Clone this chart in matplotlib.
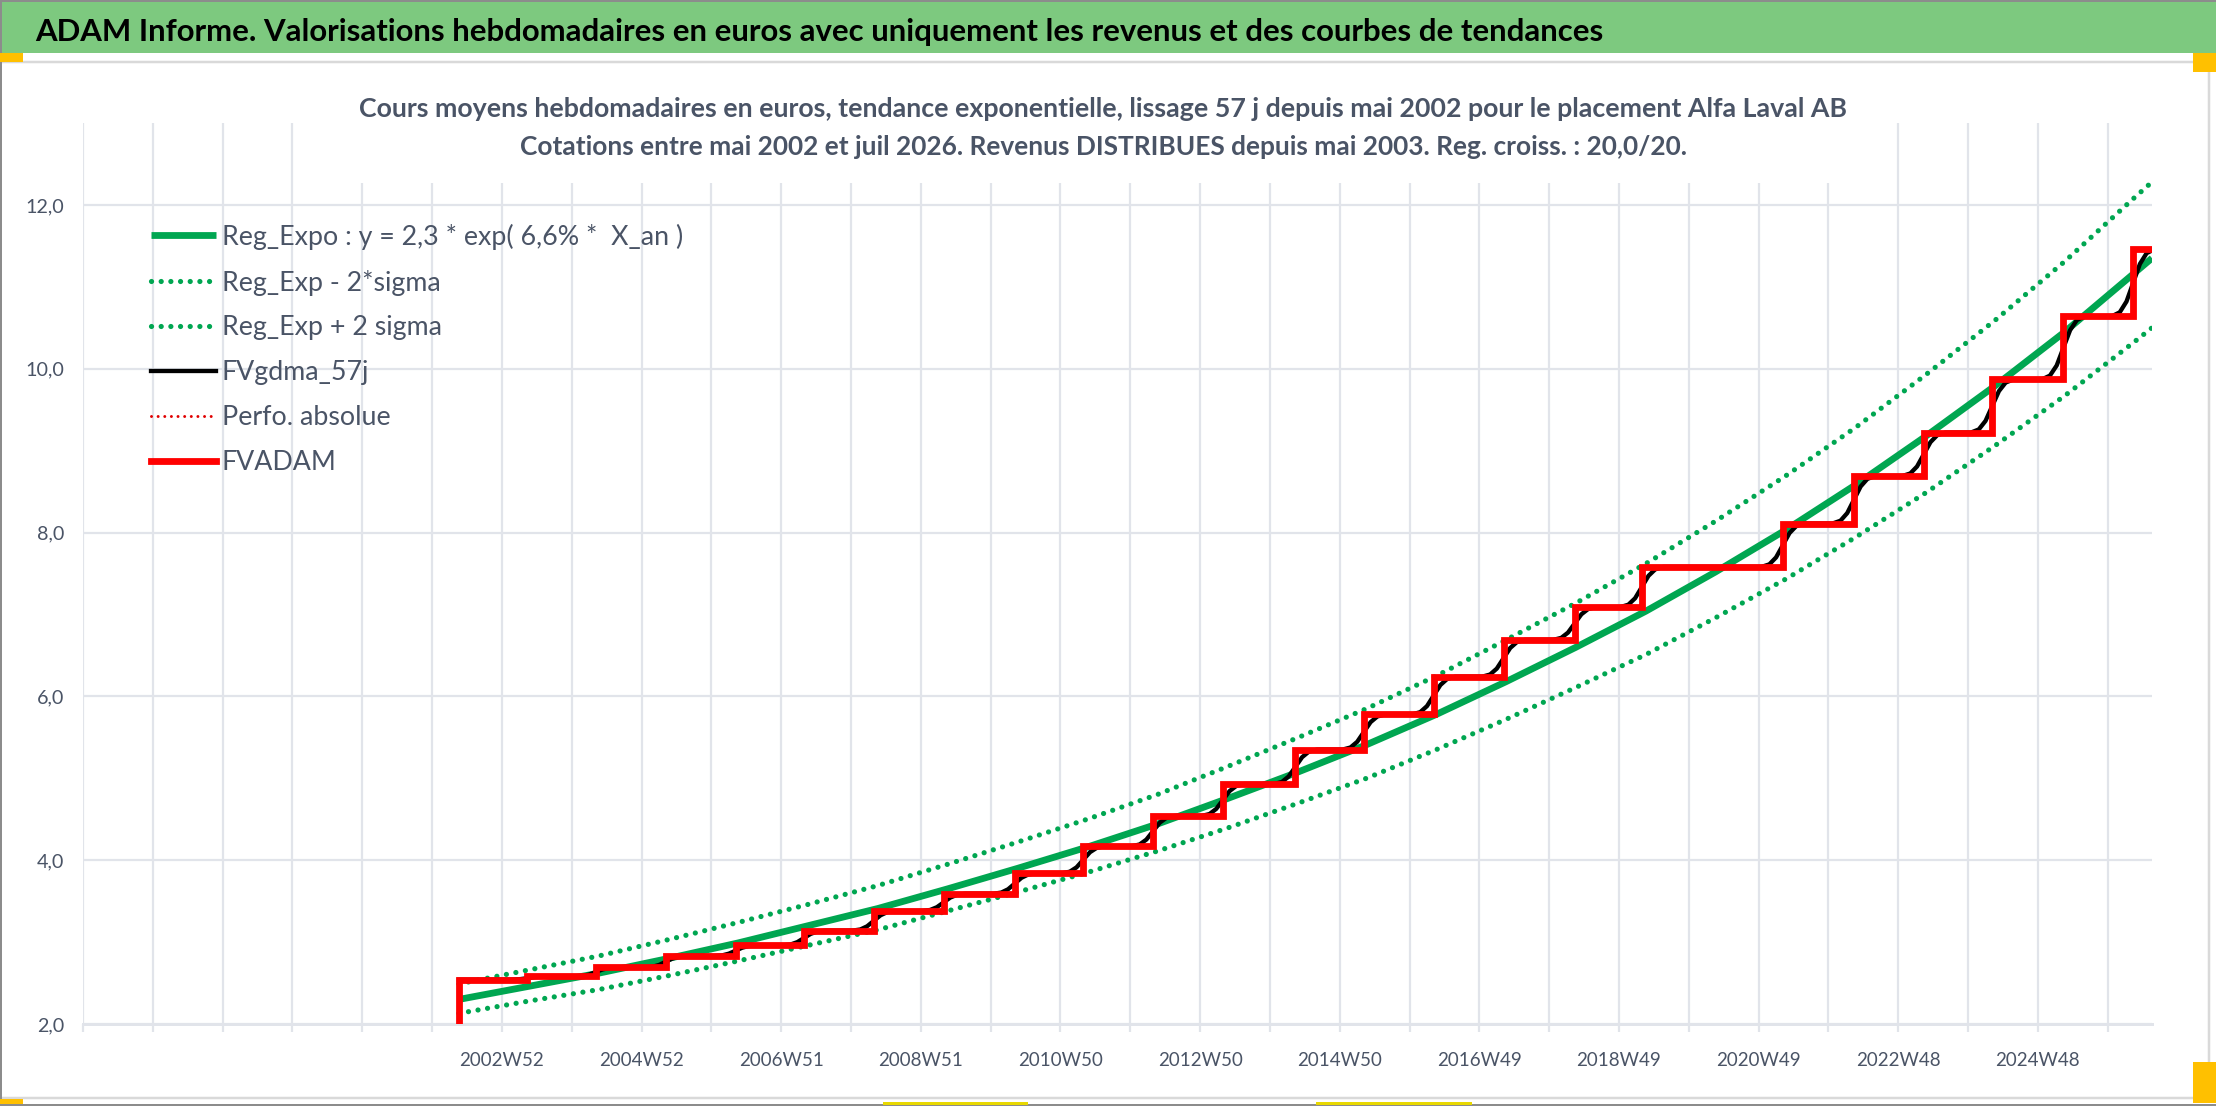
import numpy as np
import matplotlib
matplotlib.use('Agg')
import matplotlib.pyplot as plt
from matplotlib import font_manager
from matplotlib.patches import Rectangle

# ==================== police ====================
names = {f.name for f in font_manager.fontManager.ttflist}
FONT = next((n for n in ['Liberation Sans Narrow', 'Lato', 'Open Sans', 'DejaVu Sans'] if n in names), 'DejaVu Sans')
plt.rcParams['font.family'] = [FONT, 'DejaVu Sans']

W, H = 2216, 1106

# ==================== données ====================
TITLE = "ADAM Informe. Valorisations hebdomadaires en euros avec uniquement les revenus et des courbes de tendances"
SUB1 = "Cours moyens hebdomadaires en euros, tendance exponentielle, lissage 57 j depuis mai 2002 pour le placement Alfa Laval AB"
SUB2 = "Cotations entre mai 2002 et juil 2026. Revenus DISTRIBUES depuis mai 2003. Reg. croiss. : 20,0/20."

# axe des catégories = semaines (0 = bord gauche, 52 semaines par graduation)
END_WEEK = 1541
XTICK_LABELS = ['2002W52', '2004W52', '2006W51', '2008W51', '2010W50', '2012W50',
                '2014W50', '2016W49', '2018W49', '2020W49', '2022W48', '2024W48']
Y_TICKS = [2.0, 4.0, 6.0, 8.0, 10.0, 12.0]

# FVADAM : marches annuelles (versement des revenus)
FIRST_WEEK, FIRST_LEVEL = 279, 0.0
STEP_WEEKS = [280, 331, 382, 434, 486, 537, 589, 641, 694, 745, 797, 849,
              903, 954, 1006, 1058, 1111, 1161, 1266, 1319, 1371, 1422, 1475, 1527]
STEP_LEVELS = [2.54, 2.58, 2.69, 2.83, 2.96, 3.14, 3.38, 3.59, 3.84, 4.17, 4.54, 4.93,
               5.35, 5.78, 6.24, 6.69, 7.09, 7.58, 8.11, 8.69, 9.22, 9.87, 10.64, 11.46]

# FVgdma_57j : forme de la transition lissée autour de chaque marche
S_OFFSETS = [-16, -10, -5, 0, 5, 10, 16]
S_FRACTIONS = [0.0, 0.06, 0.22, 0.5, 0.78, 0.94, 1.0]

# courbes de régression, lues une fois par an
REG_WEEKS = list(range(280, 1529, 52)) + [END_WEEK]
REG_EXPO = [2.30, 2.46, 2.62, 2.80, 2.99, 3.20, 3.41, 3.65, 3.90, 4.16, 4.44, 4.75, 5.07,
            5.41, 5.78, 6.18, 6.60, 7.04, 7.52, 8.03, 8.58, 9.17, 9.79, 10.45, 11.17, 11.35]
REG_LOW = [2.13, 2.28, 2.42, 2.59, 2.77, 2.96, 3.15, 3.38, 3.61, 3.85, 4.11, 4.39, 4.69,
           5.00, 5.35, 5.72, 6.11, 6.51, 6.96, 7.43, 7.94, 8.48, 9.06, 9.67, 10.33, 10.50]
REG_HIGH = [2.49, 2.66, 2.83, 3.03, 3.24, 3.46, 3.69, 3.95, 4.22, 4.50, 4.80, 5.14, 5.49,
            5.85, 6.25, 6.69, 7.14, 7.62, 8.14, 8.69, 9.28, 9.92, 10.59, 11.31, 12.09, 12.28]

LABELS = ['Reg_Expo : y = 2,3 * exp( 6,6% *  X_an )', 'Reg_Exp - 2*sigma', 'Reg_Exp + 2 sigma',
          'FVgdma_57j', 'Perfo. absolue', 'FVADAM']

GREEN = '#00A651'
GRID = '#E1E4EA'
SLATE = '#4A5466'
PT = 0.72  # 1 px en points

# ==================== séries ====================
red_x = [FIRST_WEEK] + STEP_WEEKS + [END_WEEK]
red_y = [FIRST_LEVEL] + STEP_LEVELS + [STEP_LEVELS[-1]]

black_x, black_y = [STEP_WEEKS[0]], [STEP_LEVELS[0]]
for t, lo, hi in zip(STEP_WEEKS[1:], STEP_LEVELS[:-1], STEP_LEVELS[1:]):
    for off, fr in zip(S_OFFSETS, S_FRACTIONS):
        black_x.append(t + off)
        black_y.append(lo + fr * (hi - lo))
if black_x[-1] < END_WEEK:
    black_x.append(END_WEEK)
    black_y.append(black_y[-1])

# ==================== figure ====================
def fx(x):
    return x / W

def fy(y):
    return 1 - y / H

fig = plt.figure(figsize=(W / 100, H / 100), dpi=100)
renderer = fig.canvas.get_renderer()

ax = fig.add_axes([fx(83), fy(1024), (2152 - 83) / W, (1024 - 123) / H])
ax.set_xlim(0, END_WEEK)
ax.set_ylim(2, 13)

dots = (0, (0.01, 1.85))
l_reg, = ax.plot(REG_WEEKS, REG_EXPO, color=GREEN, lw=6.8 * PT, solid_capstyle='butt', zorder=3)
l_low, = ax.plot(REG_WEEKS, REG_LOW, color=GREEN, lw=5.2 * PT, linestyle=dots, dash_capstyle='round', zorder=3)
l_high, = ax.plot(REG_WEEKS, REG_HIGH, color=GREEN, lw=5.2 * PT, linestyle=dots, dash_capstyle='round', zorder=3)
l_black, = ax.plot(black_x, black_y, color='black', lw=4.3 * PT, zorder=4)
l_perf, = ax.plot([], [], color='#E00000', lw=3.0 * PT, linestyle=(0, (0.01, 2.2)), dash_capstyle='round')
l_red, = ax.plot(red_x, red_y, color='#FF0000', lw=6.8 * PT, drawstyle='steps-post',
                 solid_joinstyle='miter', zorder=5)

# grille
ax.set_xticks(np.arange(0, END_WEEK, 52))
xlab = []
for k in range(len(ax.get_xticks())):
    xlab.append(XTICK_LABELS[(k - 6) // 2] if k >= 6 and (k - 6) % 2 == 0 else '')
ax.set_xticklabels(xlab)
ax.set_yticks(Y_TICKS)
ax.set_yticklabels([f'{v:.1f}'.replace('.', ',') for v in Y_TICKS])
ax.grid(True, color=GRID, lw=2.2 * PT, zorder=0)
ax.set_axisbelow(True)
for s in ['top', 'right', 'left']:
    ax.spines[s].set_visible(False)
ax.spines['bottom'].set_color(GRID)
ax.spines['bottom'].set_linewidth(3 * PT)
ax.tick_params(axis='x', length=8 * PT, width=2.2 * PT, color=GRID, pad=20 * PT, labelcolor=SLATE)
ax.tick_params(axis='y', length=0, pad=19 * PT, labelcolor=SLATE)

# taille des étiquettes d'axe ajustée sur la largeur mesurée
def size_for(txt, width, **kw):
    t = fig.text(0, 0, txt, fontsize=10, **kw)
    w = t.get_window_extent(renderer).width
    t.remove()
    return 10 * width / w

xs = size_for('2002W52', 85)
ys = size_for('12,0', 39)
for lab in ax.get_xticklabels():
    lab.set_fontsize(xs)
for lab in ax.get_yticklabels():
    lab.set_fontsize(ys)

# ==================== cadre et bandeau ====================
def rect(x0, y0, x1, y1, **kw):
    fig.patches.append(Rectangle((fx(x0), fy(y1)), (x1 - x0) / W, (y1 - y0) / H,
                                 transform=fig.transFigure, **kw))

rect(0, 62, 2209, 1098, facecolor='none', edgecolor='#D9D9D9', lw=2.5 * PT, zorder=0.5)
rect(0, 1.5, W, 53, facecolor='#7DC97F', edgecolor='none', zorder=2)
rect(0, 0, W, 1.5, facecolor='#8C8C8C', edgecolor='none', zorder=2)
rect(0, 1104, W, H, facecolor='#8C8C8C', edgecolor='none', zorder=2)
rect(0, 0, 1.5, H, facecolor='#8C8C8C', edgecolor='none', zorder=2)
rect(0, 53, 23, 62, facecolor='#FFC000', edgecolor='none', zorder=2)
rect(2193, 53, W, 72, facecolor='#FFC000', edgecolor='none', zorder=2)
rect(2193, 1062, W, 1103, facecolor='#FFC000', edgecolor='none', zorder=2)
rect(0, 1099, 23, 1104, facecolor='#FFC000', edgecolor='none', zorder=2)
rect(883, 1102, 1028, 1105, facecolor='#E8D800', edgecolor='none', zorder=2)
rect(1316, 1102, 1472, 1105, facecolor='#E8D800', edgecolor='none', zorder=2)
# fond blanc du titre du graphique (masque la grille)
rect(330, 123, 1875, 183, facecolor='white', edgecolor='none', zorder=1.5)

t0 = fig.text(fx(35), fy(40.5), TITLE, fontsize=20, fontweight='bold', color='black',
              va='baseline', ha='left', zorder=3)
t1 = fig.text(fx(1103), fy(117), SUB1, fontsize=16, fontweight='bold', color=SLATE,
              va='baseline', ha='center', zorder=3)
t2 = fig.text(fx(1103), fy(155), SUB2, fontsize=16, fontweight='bold', color=SLATE,
              va='baseline', ha='center', zorder=3)
for t, w in [(t0, 1568), (t1, 1493), (t2, 1169)]:
    t.set_fontsize(t.get_fontsize() * w / t.get_window_extent(renderer).width)

# ==================== légende ====================
lsize = size_for(LABELS[0], 460)
lpx = lsize / PT
handles = [l_reg, l_low, l_high, l_black, l_perf, l_red]
spacing = 0.4
anchor_y = fy(215)
for _ in range(3):
    leg = fig.legend(handles, LABELS, loc='upper left', bbox_to_anchor=(fx(150.5), anchor_y),
                     bbox_transform=fig.transFigure, frameon=False, fontsize=lsize,
                     handlelength=65 / lpx, handletextpad=6.5 / lpx, borderpad=0,
                     borderaxespad=0, labelspacing=spacing, labelcolor=SLATE)
    fig.canvas.draw()
    bbs = [t.get_window_extent(renderer) for t in leg.get_texts()]
    c0 = (bbs[0].y0 + bbs[0].y1) / 2
    c1 = (bbs[1].y0 + bbs[1].y1) / 2
    spacing += (45.9 - (c0 - c1)) / lpx
    anchor_y += ((H - 236.7) - c0) / H
    leg.remove()

leg = fig.legend(handles, LABELS, loc='upper left', bbox_to_anchor=(fx(150.5), anchor_y),
                 bbox_transform=fig.transFigure, frameon=False, fontsize=lsize,
                 handlelength=65 / lpx, handletextpad=6.5 / lpx, borderpad=0,
                 borderaxespad=0, labelspacing=spacing, labelcolor=SLATE)

fig.savefig('out.png', dpi=100)
